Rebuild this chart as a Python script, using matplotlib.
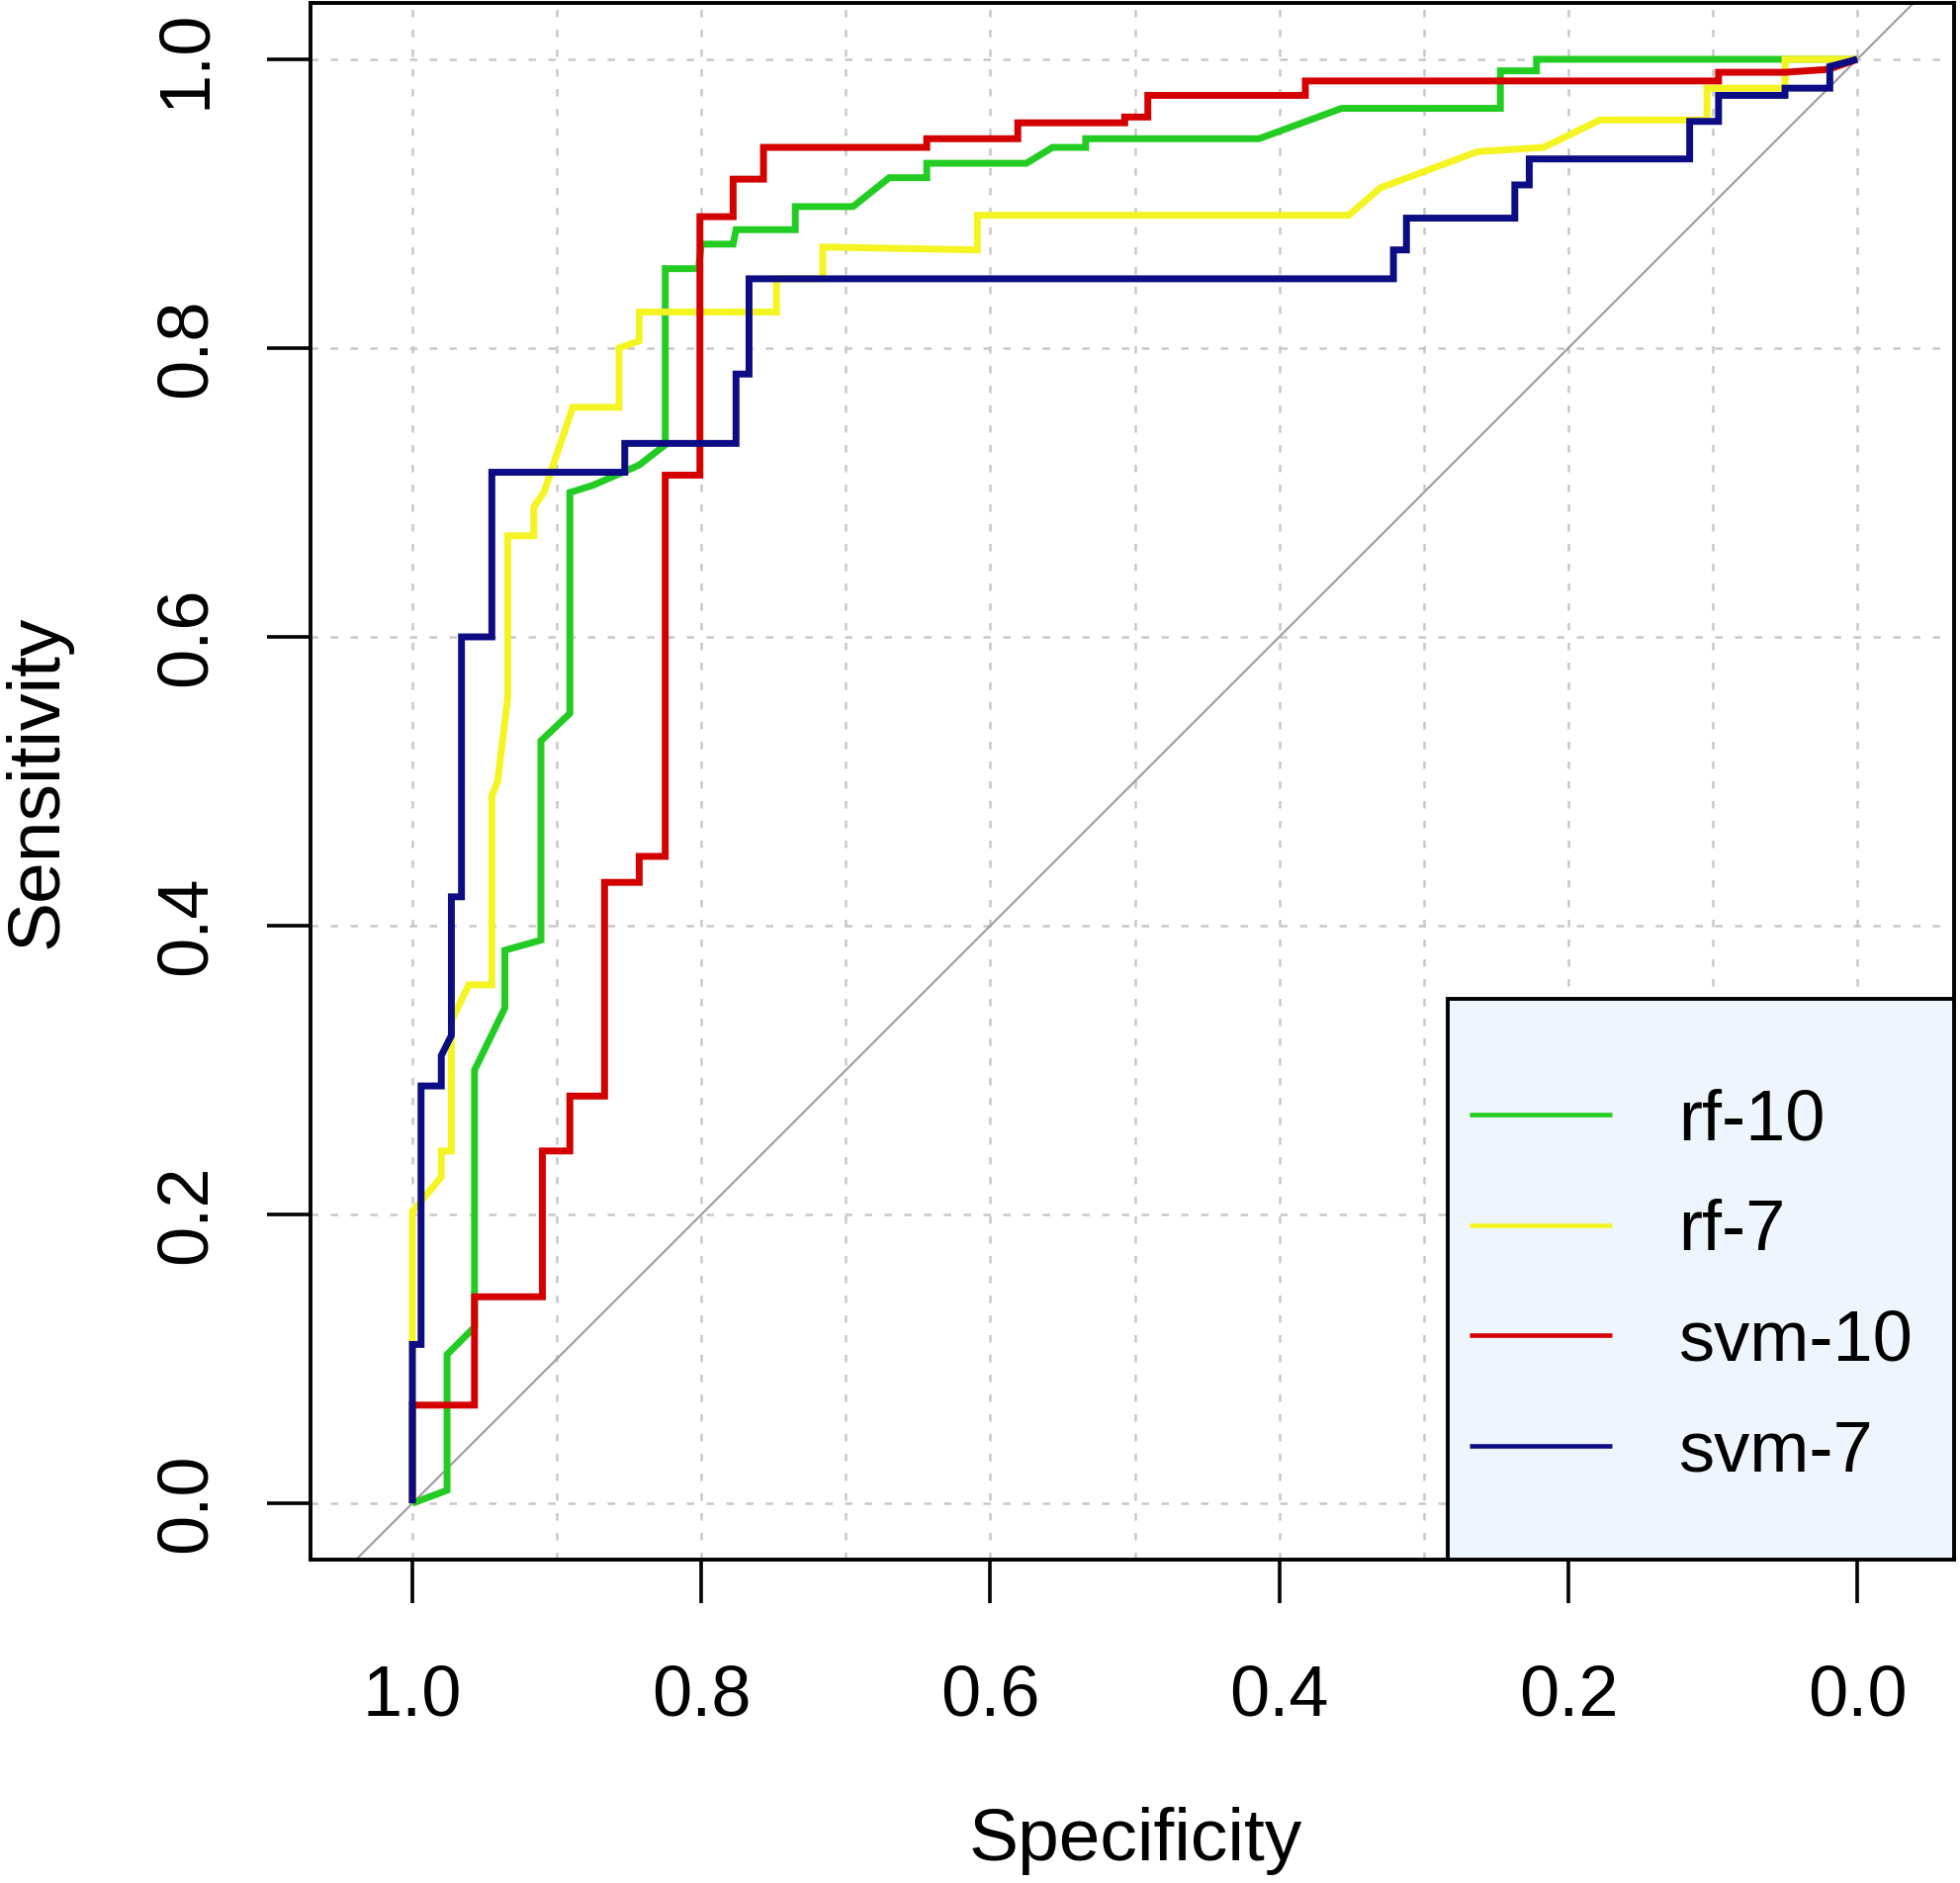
import matplotlib
matplotlib.use('Agg')
import matplotlib.pyplot as plt
from matplotlib.patches import Rectangle

plt.rcParams['font.family'] = ['Liberation Sans', 'DejaVu Sans']

# ROC curve vertices (specificity, sensitivity)
rf10_spec = [1.0, 0.976, 0.976, 0.957, 0.957, 0.936, 0.936, 0.911, 0.911, 0.891, 0.891,
             0.875, 0.843, 0.825, 0.825, 0.802, 0.800, 0.778, 0.776, 0.735, 0.735, 0.695,
             0.670, 0.644, 0.644, 0.575, 0.557, 0.534, 0.534, 0.414, 0.357, 0.247, 0.247,
             0.222, 0.222, 0.0]
rf10_sens = [0.0, 0.009, 0.103, 0.122, 0.300, 0.343, 0.383, 0.390, 0.528, 0.547, 0.700,
             0.705, 0.719, 0.733, 0.855, 0.855, 0.872, 0.872, 0.882, 0.882, 0.898, 0.898,
             0.918, 0.918, 0.928, 0.928, 0.939, 0.939, 0.945, 0.945, 0.966, 0.966, 0.992,
             0.992, 1.0, 1.0]

rf7_spec = [1.0, 1.0, 0.980, 0.980, 0.973, 0.973, 0.961, 0.945, 0.945, 0.941, 0.934, 0.934,
            0.916, 0.916, 0.909, 0.889, 0.857, 0.857, 0.843, 0.843, 0.748, 0.748, 0.716,
            0.716, 0.609, 0.609, 0.352, 0.330, 0.263, 0.217, 0.178, 0.104, 0.104, 0.050,
            0.050, 0.0]
rf7_sens = [0.0, 0.202, 0.226, 0.244, 0.244, 0.334, 0.359, 0.359, 0.490, 0.500, 0.558, 0.670,
            0.670, 0.690, 0.700, 0.759, 0.759, 0.800, 0.805, 0.825, 0.825, 0.848, 0.848,
            0.870, 0.868, 0.892, 0.892, 0.911, 0.936, 0.939, 0.958, 0.958, 0.980, 0.980,
            1.0, 1.0]

svm10_spec = [1.0, 1.0, 0.957, 0.957, 0.910, 0.910, 0.891, 0.891, 0.867, 0.867, 0.843, 0.843,
              0.825, 0.825, 0.801, 0.801, 0.778, 0.778, 0.757, 0.757, 0.644, 0.644, 0.581,
              0.581, 0.507, 0.507, 0.491, 0.491, 0.382, 0.382, 0.096, 0.096, 0.050, 0.020,
              0.0]
svm10_sens = [0.0, 0.068, 0.068, 0.143, 0.143, 0.244, 0.244, 0.282, 0.282, 0.430, 0.430, 0.448,
              0.448, 0.712, 0.712, 0.891, 0.891, 0.917, 0.917, 0.939, 0.939, 0.945, 0.945,
              0.956, 0.956, 0.960, 0.960, 0.975, 0.975, 0.985, 0.985, 0.991, 0.991, 0.993,
              1.0]

svm7_spec = [1.0, 1.0, 0.994, 0.994, 0.980, 0.980, 0.973, 0.973, 0.966, 0.966, 0.945, 0.945,
             0.853, 0.853, 0.776, 0.776, 0.767, 0.767, 0.321, 0.321, 0.312, 0.312, 0.237,
             0.237, 0.227, 0.227, 0.116, 0.116, 0.096, 0.096, 0.050, 0.050, 0.019, 0.019,
             0.0]
svm7_sens = [0.0, 0.110, 0.110, 0.289, 0.289, 0.310, 0.324, 0.420, 0.420, 0.600, 0.600, 0.714,
             0.714, 0.734, 0.734, 0.782, 0.782, 0.848, 0.848, 0.868, 0.868, 0.890, 0.890,
             0.913, 0.913, 0.931, 0.931, 0.957, 0.957, 0.975, 0.975, 0.980, 0.980, 0.995,
             1.0]

labels = ['rf-10', 'rf-7', 'svm-10', 'svm-7']
colors = ['#22cc22', '#f4f422', '#d40000', '#0c0c84']
tick_vals = [1.0, 0.8, 0.6, 0.4, 0.2, 0.0]
grid_x = [0.0, 0.1, 0.2, 0.3, 0.4, 0.5, 0.6, 0.7, 0.8, 0.9, 1.0]
grid_y = [0.0, 0.2, 0.4, 0.6, 0.8, 1.0]

fig = plt.figure(figsize=(19.83, 19.04), dpi=100)
ax = fig.add_axes([314 / 1983, 327 / 1904, 1662 / 1983, 1574 / 1904])

# dotted grid
for g in grid_x:
    ax.axvline(g, color='#c8c8c8', lw=1.8, dashes=(3, 5), zorder=0)
for g in grid_y:
    ax.axhline(g, color='#c8c8c8', lw=1.8, dashes=(3, 5), zorder=0)

# identity line
ax.axline((1.0, 0.0), (0.0, 1.0), color='#a0a0a0', lw=1.6, zorder=1)

series = [(rf10_spec, rf10_sens), (rf7_spec, rf7_sens),
          (svm10_spec, svm10_sens), (svm7_spec, svm7_sens)]
for (sp, se), lab, c in zip(series, labels, colors):
    ax.plot(sp, se, color=c, lw=5.0, label=lab, zorder=2,
            solid_joinstyle='miter', solid_capstyle='butt')

ax.set_xlim(1.0705, -0.067)
ax.set_ylim(-0.039, 1.039)

ax.set_xticks(tick_vals)
ax.set_xticklabels(['%.1f' % v for v in tick_vals])
ax.set_yticks(tick_vals)
ax.set_yticklabels(['%.1f' % v for v in tick_vals], rotation=90, va='center')
ax.tick_params(axis='both', direction='out', length=32, width=2.6, labelsize=52)
ax.tick_params(axis='x', pad=44)
ax.tick_params(axis='y', pad=34)
for s in ax.spines.values():
    s.set_linewidth(2.8)

# legend box sits in the bottom-right corner
ax.add_patch(Rectangle((0.692, 0.0), 0.308, 0.360, transform=ax.transAxes,
                       facecolor='#eef5fc', edgecolor='black', lw=2.8, zorder=5))
leg = ax.legend(loc='upper left', bbox_to_anchor=(0.705, 0.303), frameon=False,
                fontsize=52, borderpad=0, borderaxespad=0, handlelength=2.0,
                handletextpad=0.93, labelspacing=0.62)
leg.set_zorder(6)
for h in leg.get_lines():
    h.set_linewidth(3.3)

fig.text(38 / 1983, 0.585, 'Sensitivity', rotation=90, ha='center', va='center', fontsize=54)
fig.text(1148 / 1983, 23 / 1904, 'Specificity', ha='center', va='baseline', fontsize=54)

fig.savefig('out.png', dpi=100)
